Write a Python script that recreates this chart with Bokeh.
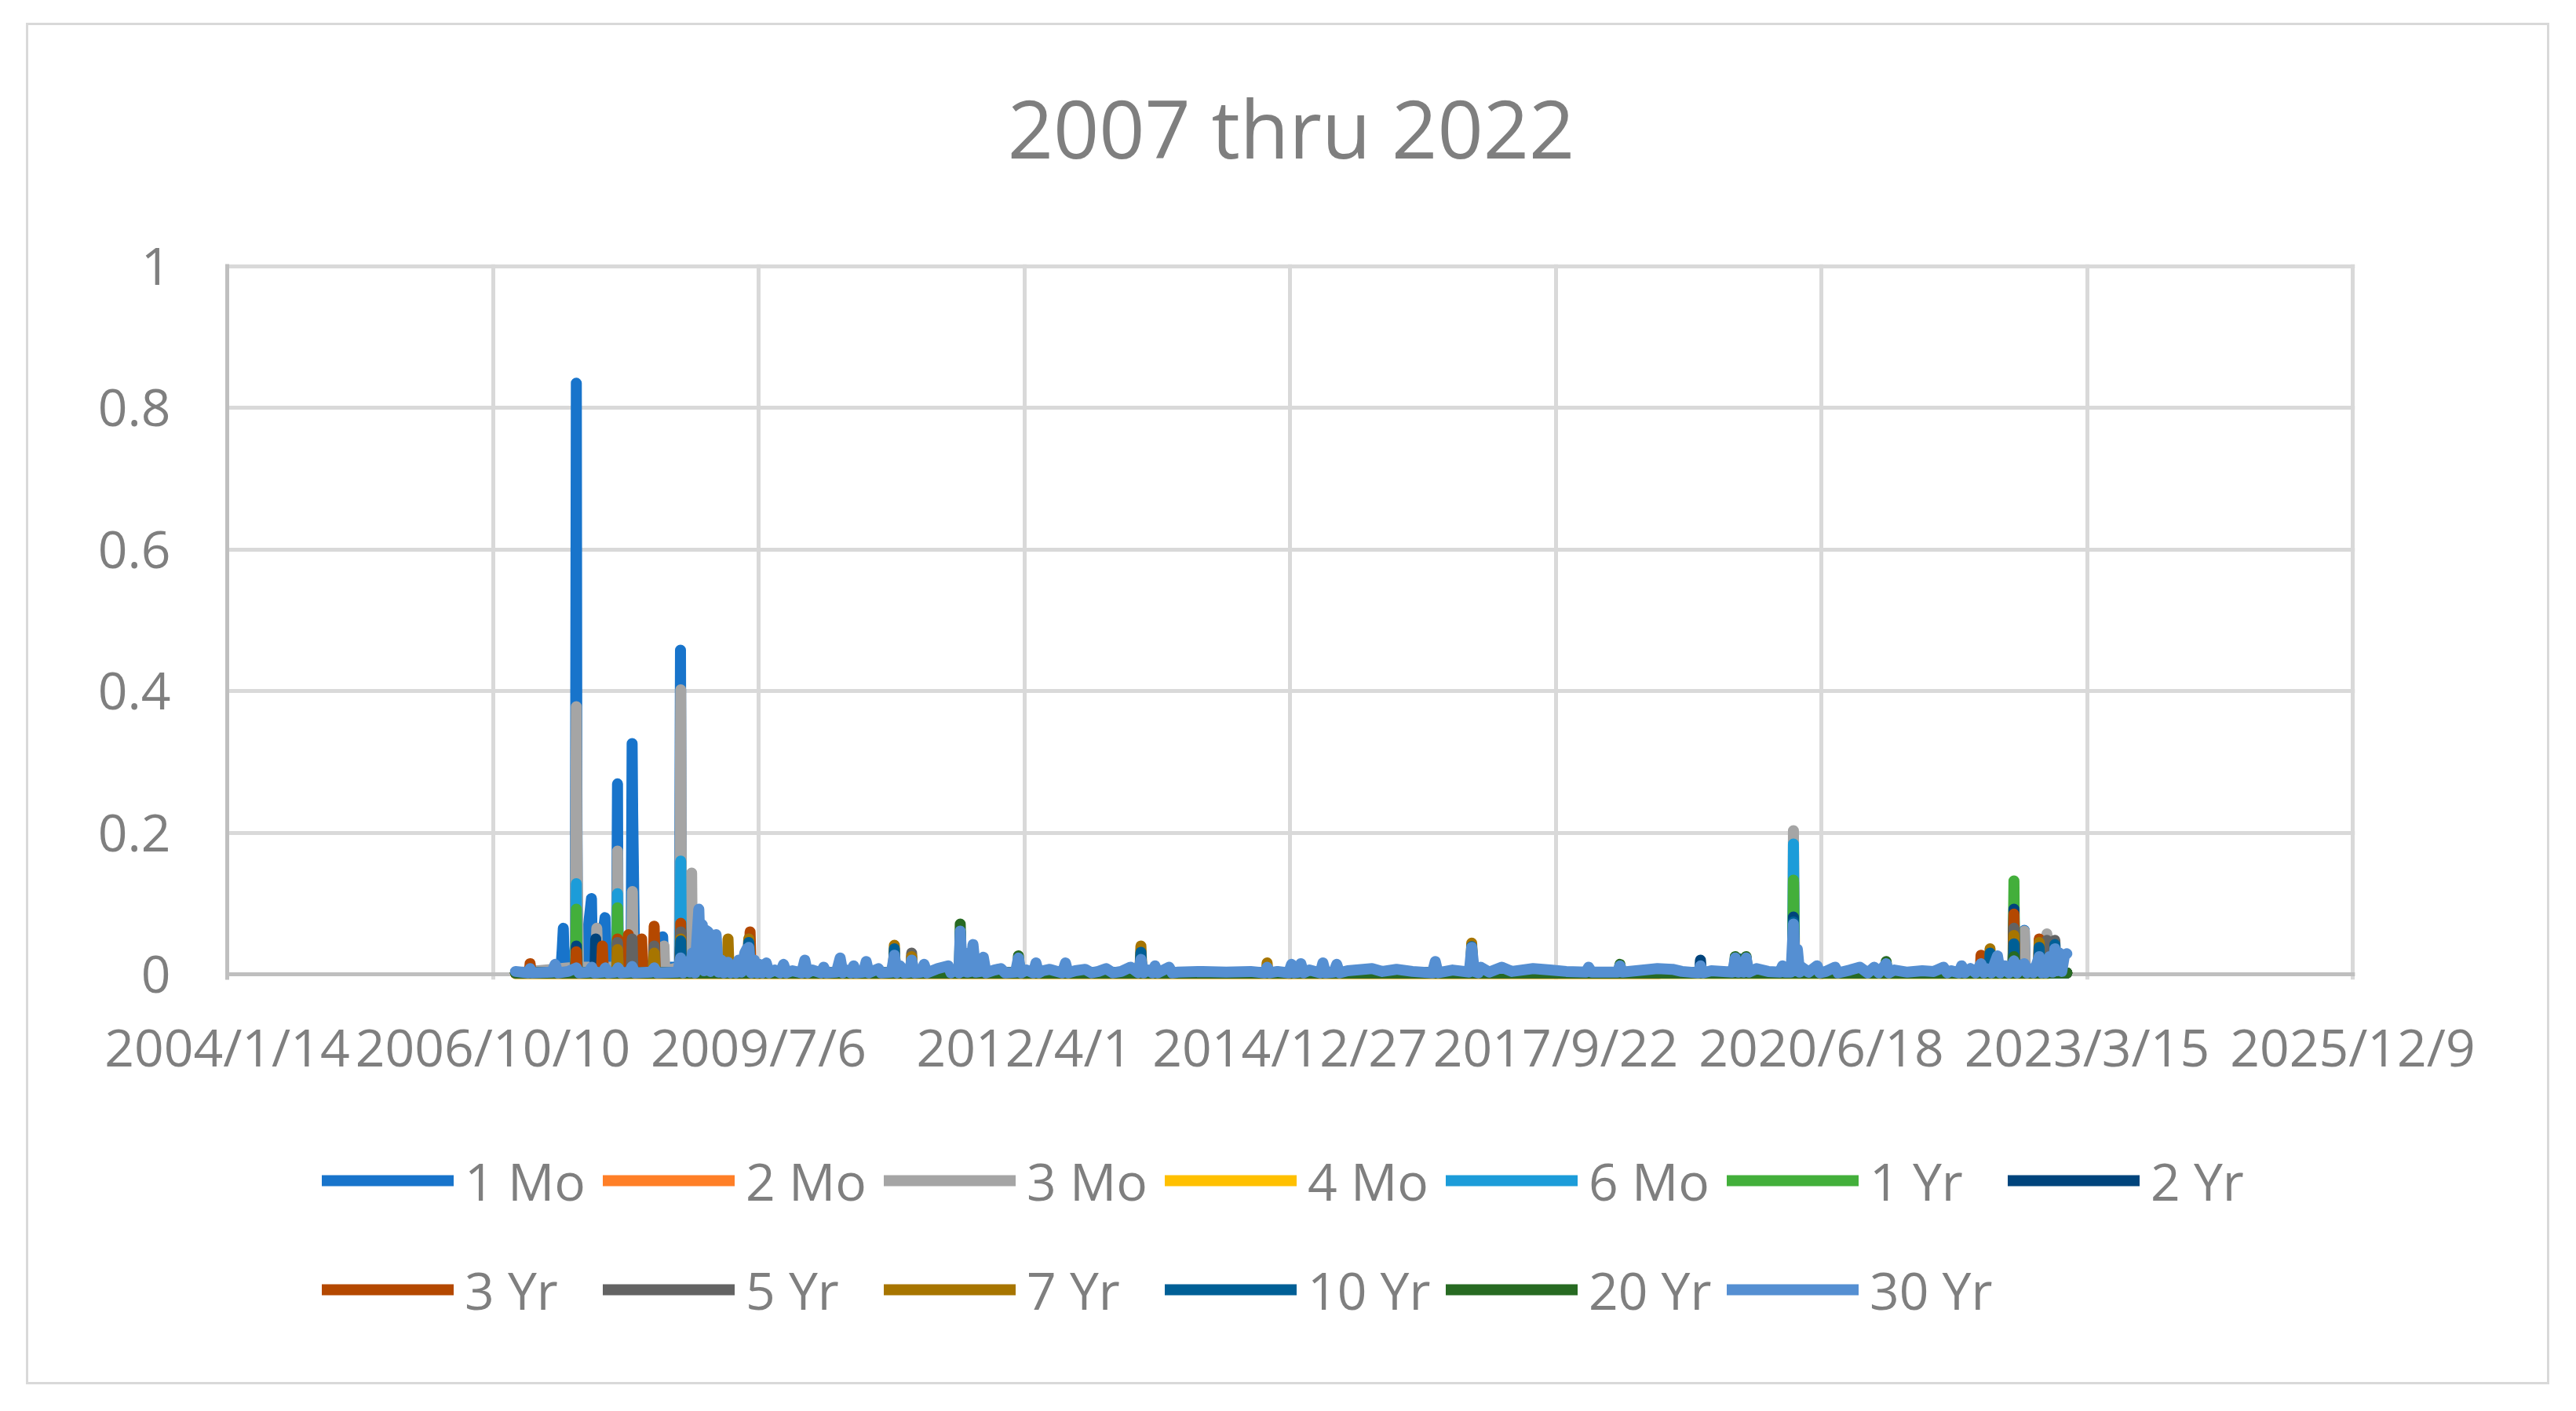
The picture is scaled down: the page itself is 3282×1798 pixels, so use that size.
import pandas as pd
from bokeh.plotting import figure
from bokeh.layouts import column
from bokeh.models import Range1d, FixedTicker, Legend, LegendItem, Title, Span
from bokeh.embed import file_html
from bokeh.resources import INLINE

# ---------------- data ----------------
title_text = "2007 thru 2022"
x_tick_labels = ["2004/1/14", "2006/10/10", "2009/7/6", "2012/4/1", "2014/12/27",
                 "2017/9/22", "2020/6/18", "2023/3/15", "2025/12/9"]
y_ticks = [0.0, 0.2, 0.4, 0.6, 0.8, 1.0]
y_tick_labels = ["0", "0.2", "0.4", "0.6", "0.8", "1"]

series_names = ["1 Mo", "2 Mo", "3 Mo", "4 Mo", "6 Mo", "1 Yr", "2 Yr",
                "3 Yr", "5 Yr", "7 Yr", "10 Yr", "20 Yr", "30 Yr"]

pts_1mo = [("2007-01-03", 0.002), ("2007-06-22", 0.002), ("2007-06-28", 0.036), ("2007-07-02", 0.065),
           ("2007-07-06", 0.01), ("2007-08-10", 0.01), ("2007-08-16", 0.04), ("2007-08-20", 0.835),
           ("2007-08-21", 0.56), ("2007-08-22", 0.28), ("2007-08-24", 0.03), ("2007-09-18", 0.01),
           ("2007-10-16", 0.107), ("2007-10-20", 0.01), ("2007-11-26", 0.05), ("2007-12-06", 0.08),
           ("2007-12-10", 0.01), ("2008-01-18", 0.02), ("2008-01-22", 0.269), ("2008-01-24", 0.02),
           ("2008-03-13", 0.02), ("2008-03-17", 0.326), ("2008-03-19", 0.23), ("2008-03-24", 0.089),
           ("2008-03-27", 0.01), ("2008-07-06", 0.01), ("2008-07-10", 0.053), ("2008-07-14", 0.01),
           ("2008-09-11", 0.01), ("2008-09-15", 0.458), ("2008-09-17", 0.22), ("2008-09-19", 0.03),
           ("2008-10-20", 0.02), ("2008-12-01", 0.005), ("2009-03-01", 0.002), ("2020-03-02", 0.002),
           ("2020-03-05", 0.06), ("2020-03-09", 0.002), ("2022-07-19", 0.002), ("2022-07-22", 0.062),
           ("2022-07-26", 0.002), ("2022-12-29", 0.002)]

pts_2mo = [("2007-01-03", 0.001), ("2018-10-15", 0.001), ("2018-10-16", 0.002), ("2020-03-02", 0.002),
           ("2020-03-06", 0.13), ("2020-03-10", 0.002), ("2022-12-29", 0.002)]

pts_3mo = [("2007-01-03", 0.002), ("2007-08-16", 0.01), ("2007-08-20", 0.378), ("2007-08-22", 0.2),
           ("2007-08-24", 0.13), ("2007-08-28", 0.01), ("2007-11-01", 0.01), ("2007-11-05", 0.065),
           ("2007-11-09", 0.01), ("2008-01-19", 0.01), ("2008-01-22", 0.174), ("2008-01-25", 0.01),
           ("2008-03-14", 0.01), ("2008-03-18", 0.117), ("2008-03-21", 0.01), ("2008-07-11", 0.005),
           ("2008-07-15", 0.04), ("2008-07-18", 0.005), ("2008-09-12", 0.01), ("2008-09-16", 0.402),
           ("2008-09-18", 0.15), ("2008-09-22", 0.01), ("2008-10-23", 0.01), ("2008-10-27", 0.143),
           ("2008-10-30", 0.01), ("2009-03-01", 0.002), ("2020-03-02", 0.002), ("2020-03-05", 0.203),
           ("2020-03-09", 0.002), ("2022-07-19", 0.002), ("2022-07-22", 0.061), ("2022-07-26", 0.002),
           ("2022-10-12", 0.002), ("2022-10-15", 0.057), ("2022-10-19", 0.002), ("2022-12-29", 0.002)]

pts_4mo = [("2007-01-03", 0.001), ("2022-10-18", 0.001), ("2022-10-19", 0.002), ("2022-12-29", 0.002)]

pts_6mo = [("2007-01-03", 0.002), ("2007-08-17", 0.002), ("2007-08-20", 0.128), ("2007-08-22", 0.03),
           ("2007-08-25", 0.002), ("2008-01-19", 0.002), ("2008-01-22", 0.114), ("2008-01-25", 0.002),
           ("2008-09-12", 0.002), ("2008-09-16", 0.16), ("2008-09-19", 0.002), ("2020-03-02", 0.002),
           ("2020-03-05", 0.184), ("2020-03-09", 0.002), ("2022-12-29", 0.002)]

pts_1yr = [("2007-01-03", 0.002), ("2007-08-17", 0.002), ("2007-08-20", 0.092), ("2007-08-23", 0.002),
           ("2008-01-19", 0.002), ("2008-01-22", 0.094), ("2008-01-25", 0.002), ("2008-09-13", 0.002),
           ("2008-09-16", 0.04), ("2008-09-19", 0.002), ("2020-03-02", 0.002), ("2020-03-05", 0.133),
           ("2020-03-09", 0.002), ("2022-06-09", 0.002), ("2022-06-13", 0.132), ("2022-06-16", 0.002),
           ("2022-12-29", 0.002)]

pts_2yr = [("2007-01-03", 0.002), ("2007-08-17", 0.002), ("2007-08-20", 0.04), ("2007-08-23", 0.002),
           ("2007-10-29", 0.002), ("2007-11-01", 0.05), ("2007-11-05", 0.002), ("2008-01-19", 0.002),
           ("2008-01-22", 0.035), ("2008-01-25", 0.002), ("2008-03-14", 0.002), ("2008-03-17", 0.045),
           ("2008-03-20", 0.002), ("2008-09-13", 0.002), ("2008-09-16", 0.059), ("2008-09-19", 0.002),
           ("2019-03-18", 0.002), ("2019-03-21", 0.02), ("2019-03-25", 0.002), ("2020-03-02", 0.002),
           ("2020-03-05", 0.081), ("2020-03-09", 0.002), ("2022-06-09", 0.002), ("2022-06-13", 0.092),
           ("2022-06-16", 0.002), ("2022-12-29", 0.002)]

pts_3yr = [("2007-01-03", 0.002), ("2007-02-24", 0.002), ("2007-02-27", 0.015), ("2007-03-03", 0.002),
           ("2007-08-17", 0.002), ("2007-08-20", 0.032), ("2007-08-24", 0.002), ("2007-11-22", 0.002),
           ("2007-11-26", 0.04), ("2007-11-30", 0.002), ("2008-01-19", 0.002), ("2008-01-22", 0.05),
           ("2008-01-25", 0.002), ("2008-02-28", 0.002), ("2008-03-03", 0.056), ("2008-03-07", 0.002),
           ("2008-04-18", 0.002), ("2008-04-22", 0.05), ("2008-04-26", 0.002), ("2008-06-04", 0.002),
           ("2008-06-08", 0.068), ("2008-06-12", 0.002), ("2008-09-13", 0.002), ("2008-09-16", 0.072),
           ("2008-09-19", 0.002), ("2009-05-31", 0.002), ("2009-06-04", 0.06), ("2009-06-08", 0.002),
           ("2022-02-06", 0.002), ("2022-02-09", 0.027), ("2022-02-14", 0.002), ("2022-06-09", 0.002),
           ("2022-06-13", 0.085), ("2022-06-16", 0.002), ("2022-09-13", 0.002), ("2022-09-16", 0.05),
           ("2022-09-20", 0.002), ("2022-12-29", 0.002)]

pts_5yr = [("2007-01-03", 0.002), ("2008-01-19", 0.002), ("2008-01-22", 0.045), ("2008-01-25", 0.002),
           ("2008-03-14", 0.002), ("2008-03-17", 0.05), ("2008-03-20", 0.002), ("2008-06-04", 0.002),
           ("2008-06-08", 0.04), ("2008-06-12", 0.002), ("2008-09-13", 0.002), ("2008-09-16", 0.06),
           ("2008-09-19", 0.002), ("2009-05-26", 0.002), ("2009-05-30", 0.05), ("2009-06-04", 0.002),
           ("2011-01-30", 0.002), ("2011-02-02", 0.03), ("2011-02-06", 0.002), ("2022-06-09", 0.002),
           ("2022-06-13", 0.065), ("2022-06-16", 0.002), ("2022-10-12", 0.002), ("2022-10-15", 0.048),
           ("2022-10-19", 0.01), ("2022-11-10", 0.01), ("2022-11-14", 0.048), ("2022-11-18", 0.002),
           ("2022-12-29", 0.002)]

pts_7yr = [("2007-01-03", 0.002), ("2008-01-19", 0.002), ("2008-01-22", 0.035), ("2008-01-25", 0.002),
           ("2008-06-04", 0.002), ("2008-06-08", 0.03), ("2008-06-12", 0.002), ("2008-09-13", 0.002),
           ("2008-09-16", 0.05), ("2008-09-19", 0.002), ("2009-03-10", 0.002), ("2009-03-13", 0.05),
           ("2009-03-17", 0.002), ("2009-05-26", 0.002), ("2009-05-30", 0.05), ("2009-06-04", 0.002),
           ("2010-11-25", 0.002), ("2010-11-29", 0.041), ("2010-12-03", 0.002), ("2011-01-30", 0.002),
           ("2011-02-02", 0.025), ("2011-02-06", 0.002), ("2013-06-10", 0.002), ("2013-06-14", 0.04),
           ("2013-06-18", 0.002), ("2014-09-29", 0.002), ("2014-10-02", 0.016), ("2014-10-05", 0.002),
           ("2016-11-07", 0.002), ("2016-11-10", 0.044), ("2016-11-14", 0.002), ("2022-03-12", 0.002),
           ("2022-03-15", 0.036), ("2022-03-18", 0.002), ("2022-06-09", 0.002), ("2022-06-13", 0.055),
           ("2022-06-16", 0.002), ("2022-09-13", 0.002), ("2022-09-16", 0.045), ("2022-09-20", 0.002),
           ("2022-12-29", 0.002)]

pts_10yr = [("2007-01-03", 0.002), ("2008-09-13", 0.002), ("2008-09-16", 0.047), ("2008-09-19", 0.002),
            ("2009-05-26", 0.002), ("2009-05-30", 0.045), ("2009-06-04", 0.002), ("2010-11-25", 0.002),
            ("2010-11-29", 0.036), ("2010-12-03", 0.002), ("2011-08-01", 0.002), ("2011-08-04", 0.06),
            ("2011-08-08", 0.002), ("2013-06-10", 0.002), ("2013-06-14", 0.031), ("2013-06-18", 0.002),
            ("2016-11-07", 0.002), ("2016-11-10", 0.039), ("2016-11-14", 0.002), ("2019-08-09", 0.002),
            ("2019-08-13", 0.022), ("2019-08-17", 0.002), ("2020-03-02", 0.002), ("2020-03-05", 0.074),
            ("2020-03-09", 0.002), ("2022-03-12", 0.002), ("2022-03-15", 0.03), ("2022-03-18", 0.002),
            ("2022-06-09", 0.002), ("2022-06-13", 0.043), ("2022-06-16", 0.002), ("2022-09-13", 0.002),
            ("2022-09-16", 0.038), ("2022-09-20", 0.002), ("2022-11-10", 0.002), ("2022-11-14", 0.042),
            ("2022-11-18", 0.002), ("2022-12-29", 0.002)]

pts_20yr = [("2007-01-03", 0.002), ("2011-08-01", 0.002), ("2011-08-04", 0.071), ("2011-08-08", 0.002),
            ("2012-03-07", 0.002), ("2012-03-10", 0.026), ("2012-03-14", 0.002), ("2016-11-07", 0.002),
            ("2016-11-10", 0.036), ("2016-11-14", 0.002), ("2018-05-18", 0.002), ("2018-05-22", 0.014),
            ("2018-05-26", 0.002), ("2019-07-25", 0.002), ("2019-07-30", 0.025), ("2019-08-04", 0.002),
            ("2019-09-04", 0.002), ("2019-09-09", 0.025), ("2019-09-14", 0.002), ("2021-02-14", 0.002),
            ("2021-02-17", 0.018), ("2021-02-21", 0.002), ("2022-06-09", 0.002), ("2022-06-13", 0.025),
            ("2022-06-16", 0.002), ("2022-12-29", 0.002)]

pts_30yr = [
    ("2007-01-03", 0.004), ("2007-02-20", 0.002), ("2007-02-27", 0.008), ("2007-03-06", 0.002),
    ("2007-05-20", 0.003), ("2007-06-01", 0.014), ("2007-06-12", 0.002), ("2007-07-20", 0.004),
    ("2007-08-20", 0.009), ("2007-08-30", 0.002), ("2007-10-05", 0.003), ("2007-10-17", 0.01),
    ("2007-10-27", 0.002), ("2007-11-28", 0.003), ("2007-12-07", 0.009), ("2007-12-17", 0.002),
    ("2008-01-14", 0.003), ("2008-01-24", 0.009), ("2008-02-03", 0.002), ("2008-03-07", 0.003),
    ("2008-03-17", 0.011), ("2008-03-27", 0.002), ("2008-05-28", 0.003), ("2008-06-08", 0.009),
    ("2008-06-18", 0.002), ("2008-09-05", 0.003), ("2008-09-15", 0.023), ("2008-09-24", 0.002),
    ("2008-10-10", 0.018), ("2008-10-20", 0.003), ("2008-10-30", 0.03), ("2008-11-08", 0.002),
    ("2008-11-16", 0.05), ("2008-11-23", 0.092), ("2008-11-30", 0.01), ("2008-12-06", 0.07),
    ("2008-12-13", 0.005), ("2008-12-20", 0.062), ("2008-12-28", 0.06), ("2009-01-05", 0.004),
    ("2009-01-14", 0.045), ("2009-01-20", 0.01), ("2009-01-27", 0.056), ("2009-02-05", 0.003),
    ("2009-02-16", 0.02), ("2009-02-25", 0.002), ("2009-03-06", 0.015), ("2009-03-13", 0.017),
    ("2009-03-22", 0.002), ("2009-04-02", 0.012), ("2009-04-12", 0.002), ("2009-04-22", 0.02),
    ("2009-05-02", 0.003), ("2009-05-15", 0.03), ("2009-05-23", 0.036), ("2009-05-30", 0.038),
    ("2009-06-08", 0.002), ("2009-06-20", 0.02), ("2009-07-01", 0.002), ("2009-07-10", 0.014),
    ("2009-07-20", 0.002), ("2009-08-04", 0.016), ("2009-08-14", 0.002), ("2009-09-05", 0.006),
    ("2009-09-25", 0.002), ("2009-10-08", 0.014), ("2009-10-18", 0.002), ("2009-11-10", 0.005),
    ("2009-12-15", 0.002), ("2009-12-27", 0.02), ("2010-01-06", 0.002), ("2010-01-25", 0.006),
    ("2010-02-25", 0.002), ("2010-03-08", 0.01), ("2010-03-18", 0.002), ("2010-04-25", 0.003),
    ("2010-05-09", 0.023), ("2010-05-19", 0.002), ("2010-06-01", 0.006), ("2010-06-18", 0.002),
    ("2010-06-29", 0.012), ("2010-07-08", 0.002), ("2010-08-05", 0.003), ("2010-08-15", 0.018),
    ("2010-08-25", 0.002), ("2010-09-30", 0.008), ("2010-10-10", 0.002), ("2010-11-18", 0.003),
    ("2010-11-29", 0.027), ("2010-12-08", 0.002), ("2010-12-20", 0.012), ("2011-01-05", 0.002),
    ("2011-01-25", 0.003), ("2011-02-02", 0.02), ("2011-02-12", 0.002), ("2011-03-10", 0.003),
    ("2011-03-21", 0.014), ("2011-03-31", 0.002), ("2011-05-11", 0.008), ("2011-06-20", 0.012),
    ("2011-06-30", 0.002), ("2011-07-25", 0.008), ("2011-07-30", 0.002), ("2011-08-04", 0.061),
    ("2011-08-12", 0.004), ("2011-08-20", 0.03), ("2011-08-30", 0.003), ("2011-09-12", 0.004),
    ("2011-09-21", 0.042), ("2011-10-01", 0.003), ("2011-10-20", 0.004), ("2011-10-30", 0.024),
    ("2011-11-09", 0.002), ("2011-12-10", 0.006), ("2012-01-04", 0.008), ("2012-01-20", 0.002),
    ("2012-02-28", 0.003), ("2012-03-10", 0.023), ("2012-03-20", 0.002), ("2012-04-10", 0.006),
    ("2012-05-05", 0.002), ("2012-05-15", 0.016), ("2012-05-25", 0.002), ("2012-06-10", 0.005),
    ("2012-07-06", 0.007), ("2012-08-22", 0.002), ("2012-09-03", 0.016), ("2012-09-13", 0.002),
    ("2012-10-10", 0.005), ("2012-11-16", 0.007), ("2012-12-10", 0.002), ("2013-01-05", 0.004),
    ("2013-02-03", 0.008), ("2013-03-01", 0.002), ("2013-04-01", 0.004), ("2013-05-06", 0.01),
    ("2013-06-04", 0.002), ("2013-06-14", 0.021), ("2013-06-24", 0.002), ("2013-07-10", 0.006),
    ("2013-07-28", 0.002), ("2013-08-06", 0.012), ("2013-08-16", 0.002), ("2013-09-28", 0.01),
    ("2013-10-10", 0.002), ("2013-11-01", 0.003), ("2014-02-01", 0.004), ("2014-05-01", 0.003),
    ("2014-08-01", 0.004), ("2014-09-22", 0.002), ("2014-10-02", 0.01), ("2014-10-12", 0.002),
    ("2014-11-10", 0.004), ("2014-12-22", 0.002), ("2015-01-02", 0.014), ("2015-01-12", 0.002),
    ("2015-01-28", 0.003), ("2015-02-06", 0.015), ("2015-02-16", 0.002), ("2015-03-10", 0.006),
    ("2015-04-20", 0.002), ("2015-04-30", 0.016), ("2015-05-10", 0.002), ("2015-06-10", 0.003),
    ("2015-06-21", 0.014), ("2015-07-01", 0.002), ("2015-08-01", 0.005), ("2015-11-01", 0.008),
    ("2015-12-10", 0.004), ("2016-02-01", 0.007), ("2016-04-01", 0.004), ("2016-06-15", 0.002),
    ("2016-06-26", 0.018), ("2016-07-06", 0.002), ("2016-08-30", 0.006), ("2016-11-01", 0.003),
    ("2016-11-10", 0.038), ("2016-11-20", 0.004), ("2016-12-05", 0.002), ("2016-12-14", 0.01),
    ("2017-01-15", 0.003), ("2017-03-03", 0.01), ("2017-04-10", 0.004), ("2017-06-29", 0.008),
    ("2017-09-01", 0.006), ("2017-11-01", 0.004), ("2018-01-14", 0.003), ("2018-01-24", 0.01),
    ("2018-02-05", 0.003), ("2018-05-12", 0.003), ("2018-05-22", 0.012), ("2018-06-01", 0.003),
    ("2018-10-10", 0.008), ("2018-12-06", 0.007), ("2019-01-10", 0.004), ("2019-03-12", 0.002),
    ("2019-03-21", 0.012), ("2019-03-31", 0.002), ("2019-05-01", 0.005), ("2019-07-20", 0.003),
    ("2019-07-30", 0.023), ("2019-08-10", 0.003), ("2019-08-20", 0.015), ("2019-08-30", 0.003),
    ("2019-09-09", 0.023), ("2019-09-19", 0.003), ("2019-10-18", 0.008), ("2019-12-01", 0.004),
    ("2020-01-14", 0.003), ("2020-01-24", 0.012), ("2020-02-03", 0.003), ("2020-02-25", 0.003),
    ("2020-03-05", 0.071), ("2020-03-12", 0.005), ("2020-03-20", 0.035), ("2020-03-28", 0.003),
    ("2020-04-05", 0.01), ("2020-05-01", 0.003), ("2020-06-02", 0.012), ("2020-06-12", 0.002),
    ("2020-07-05", 0.004), ("2020-08-09", 0.01), ("2020-08-20", 0.002), ("2020-10-04", 0.006),
    ("2020-11-10", 0.01), ("2020-12-10", 0.002), ("2021-01-03", 0.01), ("2021-01-20", 0.002),
    ("2021-02-17", 0.015), ("2021-02-27", 0.002), ("2021-03-20", 0.006), ("2021-05-08", 0.003),
    ("2021-07-03", 0.005), ("2021-08-15", 0.004), ("2021-09-21", 0.01), ("2021-10-05", 0.002),
    ("2021-10-20", 0.005), ("2021-11-18", 0.002), ("2021-11-28", 0.012), ("2021-12-10", 0.002),
    ("2021-12-31", 0.008), ("2022-01-20", 0.002), ("2022-02-09", 0.015), ("2022-02-20", 0.002),
    ("2022-03-01", 0.008), ("2022-03-20", 0.002), ("2022-04-01", 0.015), ("2022-04-12", 0.026),
    ("2022-04-22", 0.002), ("2022-05-10", 0.012), ("2022-05-25", 0.002), ("2022-06-13", 0.019),
    ("2022-06-25", 0.002), ("2022-07-01", 0.01), ("2022-07-22", 0.015), ("2022-08-01", 0.002),
    ("2022-08-10", 0.008), ("2022-08-25", 0.002), ("2022-09-05", 0.012), ("2022-09-16", 0.025),
    ("2022-09-26", 0.002), ("2022-10-01", 0.015), ("2022-10-10", 0.002), ("2022-10-25", 0.025),
    ("2022-11-05", 0.003), ("2022-11-14", 0.036), ("2022-11-22", 0.005), ("2022-11-30", 0.03),
    ("2022-12-10", 0.004), ("2022-12-20", 0.027), ("2022-12-29", 0.029)]

series_points = [pts_1mo, pts_2mo, pts_3mo, pts_4mo, pts_6mo, pts_1yr, pts_2yr,
                 pts_3yr, pts_5yr, pts_7yr, pts_10yr, pts_20yr, pts_30yr]
colors = ["#1874CB", "#FF7F27", "#A5A5A5", "#FFC000", "#1C9CD9", "#43AF3B", "#00447C",
          "#B44800", "#636363", "#A77500", "#005F96", "#276A22", "#558FD2"]

# ---------------- chart ----------------
TEXT = "#7f7f7f"
FONT = "Open Sans"
LW = 14

tick_ts = pd.to_datetime(x_tick_labels, format="%Y/%m/%d")
tick_ms = [float((t - pd.Timestamp("1970-01-01")) // pd.Timedelta(milliseconds=1)) for t in tick_ts]

# frame: 2708 px for the tick span plus 3 px on the right; 902 px for 0..1 plus 3 px above, 7 px below
ms_per_px = (tick_ms[-1] - tick_ms[0]) / 2708.0
x_end = tick_ms[-1] + 3 * ms_per_px
y_start, y_end = -7.0 / 902.0, 1.0 + 3.0 / 902.0

p = figure(width=3209, height=1388, x_axis_type="datetime",
           x_range=Range1d(tick_ms[0], x_end), y_range=Range1d(y_start, y_end),
           output_backend="svg", toolbar_location=None,
           min_border_left=253, min_border_right=245, min_border_top=304, min_border_bottom=172)
p.outline_line_color = None
p.background_fill_color = "white"
p.border_fill_color = "white"

p.title_location = None
spacer = Title(text=" ", text_font_size="10px", standoff=92)
main_title = Title(text=title_text, align="center", text_font=FONT, text_font_size="102px",
                   text_font_style="normal", text_color=TEXT, standoff=0)
p.add_layout(spacer, "above")
p.add_layout(main_title, "above")

xt = FixedTicker(ticks=tick_ms)
yt = FixedTicker(ticks=y_ticks)
p.xaxis.ticker = xt
p.xgrid.ticker = xt
p.yaxis.ticker = yt
p.ygrid.ticker = yt
p.xaxis.major_label_overrides = {ms: lab for ms, lab in zip(tick_ms, x_tick_labels)}
p.yaxis.major_label_overrides = {float(v): lab for v, lab in zip(y_ticks, y_tick_labels)}

for ax in (p.xaxis, p.yaxis):
    ax.major_tick_line_color = None
    ax.minor_tick_line_color = None
    ax.major_tick_out = 0
    ax.major_tick_in = 0
    ax.minor_tick_out = 0
    ax.major_label_text_font = FONT
    ax.major_label_text_font_size = "66px"
    ax.major_label_text_color = TEXT
p.xaxis.axis_line_color = None
p.yaxis.axis_line_color = "#bfbfbf"
p.yaxis.axis_line_width = 5
p.xaxis.major_label_standoff = 39
p.yaxis.major_label_standoff = 72

for g in (p.xgrid, p.ygrid):
    g.grid_line_color = "#d9d9d9"
    g.grid_line_width = 5

# horizontal axis line at value 0, beneath the series (as in the original chart)
p.add_layout(Span(location=0, dimension="width", line_color="#bfbfbf", line_width=5, level="underlay"))

for pts, c in zip(series_points, colors):
    xs = pd.to_datetime([d for d, _ in pts])
    ys = [v for _, v in pts]
    p.line(xs, ys, line_color=c, line_width=LW, line_join="round", line_cap="round")

# ---------------- legend strip (proxy lines lie outside its visible range) ----------------
pl = figure(width=3209, height=341, output_backend="svg", toolbar_location=None,
            x_axis_location=None, y_axis_location=None, min_border=0,
            x_range=Range1d(0, 1), y_range=Range1d(0, 1))
pl.title_location = None
pl.grid.visible = False
pl.outline_line_color = None
pl.background_fill_color = "white"
pl.border_fill_color = "white"

items = []
for name, c in zip(series_names, colors):
    r = pl.line([5, 6], [5, 6], line_color=c, line_width=LW, line_join="round", line_cap="round")
    items.append(LegendItem(label=name, renderers=[r]))

legend = Legend(items=items, location=(121, 58), orientation="horizontal", ncols=7,
                glyph_width=168, glyph_height=120, label_standoff=14, label_width=157,
                label_height=120, spacing=19, padding=0, margin=0,
                border_line_color=None, background_fill_alpha=0,
                label_text_font=FONT, label_text_font_size="66px", label_text_color=TEXT)
pl.add_layout(legend, "center")

layout = column(p, pl)
layout.margin = (29, 0, 0, 33)
layout.styles = {"border": "3px solid #d9d9d9"}

open("out.html", "w").write(file_html(layout, INLINE))
